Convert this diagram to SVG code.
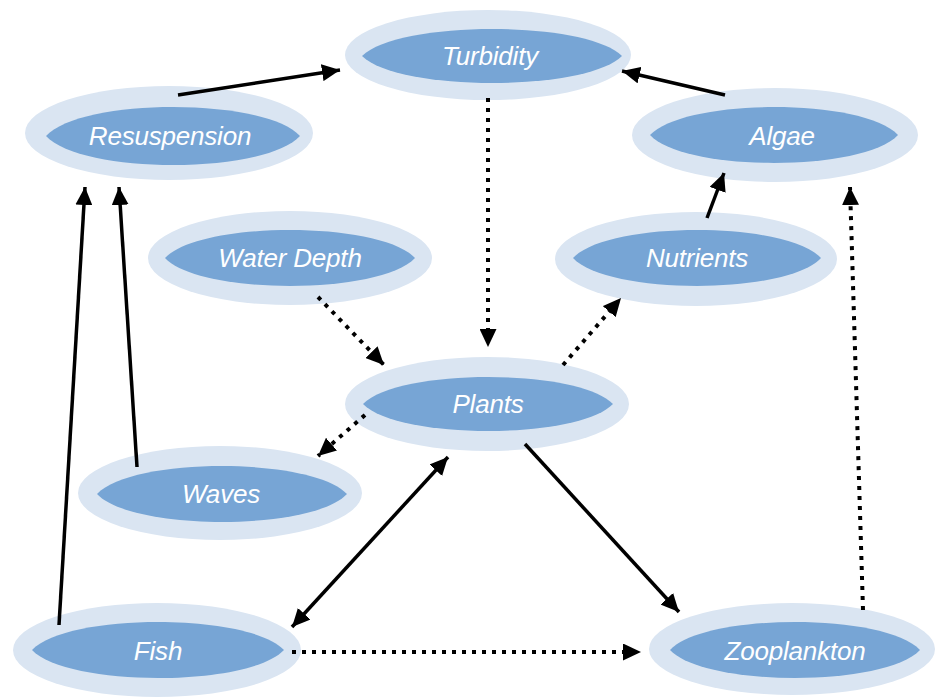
<svg xmlns="http://www.w3.org/2000/svg" width="944" height="700" viewBox="0 0 944 700">
<defs>
<style>
.outer{fill:#dae5f2}
.inner{fill:#77a5d5}
.lbl{font-family:"Liberation Sans",Arial,sans-serif;font-style:italic;font-size:26px;fill:#ffffff;text-anchor:middle;letter-spacing:-0.2px}
.solid{stroke:#000;stroke-width:3.5;fill:none}
.dot{stroke:#000;stroke-width:4;fill:none;stroke-dasharray:4 6}
</style>
<marker id="ah" markerUnits="userSpaceOnUse" markerWidth="19" markerHeight="17" refX="18" refY="8.5" orient="auto-start-reverse">
<path d="M0,0 L18,8.5 L0,17 z" fill="#000"/>
</marker>
</defs>
<rect width="944" height="700" fill="#ffffff"/>

<g id="turbidity">
<ellipse class="outer" cx="488" cy="55" rx="143" ry="45"/>
<path class="inner" d="M362,56 C398.4,20 585.6,20 622,56 C585.6,92 398.4,92 362,56Z"/>
<text class="lbl" x="490" y="65">Turbidity</text>
</g>
<g id="resuspension">
<ellipse class="outer" cx="169" cy="133" rx="144" ry="47"/>
<path class="inner" d="M46,136 C81.6,97.3 264.4,97.3 300,136 C264.4,174.7 81.6,174.7 46,136Z"/>
<text class="lbl" x="170" y="145">Resuspension</text>
</g>
<g id="algae">
<ellipse class="outer" cx="775" cy="135" rx="143" ry="47"/>
<path class="inner" d="M650,135 C684.7,97.7 863.3,97.7 898,135 C863.3,172.3 684.7,172.3 650,135Z"/>
<text class="lbl" x="782" y="145">Algae</text>
</g>
<g id="waterdepth">
<ellipse class="outer" cx="290" cy="258" rx="142" ry="47"/>
<path class="inner" d="M165,258 C200,220.7 380,220.7 415,258 C380,295.3 200,295.3 165,258Z"/>
<text class="lbl" x="290" y="267">Water Depth</text>
</g>
<g id="nutrients">
<ellipse class="outer" cx="696" cy="259" rx="141" ry="47"/>
<path class="inner" d="M573,258 C607.7,220.7 786.3,220.7 821,258 C786.3,295.3 607.7,295.3 573,258Z"/>
<text class="lbl" x="697" y="267">Nutrients</text>
</g>
<g id="plants">
<ellipse class="outer" cx="487" cy="404" rx="142" ry="47"/>
<path class="inner" d="M363,404 C398,368 578,368 613,404 C578,440 398,440 363,404Z"/>
<text class="lbl" x="488" y="413">Plants</text>
</g>
<g id="waves">
<ellipse class="outer" cx="220" cy="493" rx="142" ry="47"/>
<path class="inner" d="M97,494 C132,456.7 312,456.7 347,494 C312,531.3 132,531.3 97,494Z"/>
<text class="lbl" x="221" y="503">Waves</text>
</g>
<g id="fish">
<ellipse class="outer" cx="157" cy="650" rx="144" ry="47"/>
<path class="inner" d="M32,650 C67.3,612.7 248.7,612.7 284,650 C248.7,687.3 67.3,687.3 32,650Z"/>
<text class="lbl" x="158" y="660">Fish</text>
</g>
<g id="zooplankton">
<ellipse class="outer" cx="792" cy="649" rx="143" ry="46"/>
<path class="inner" d="M670,650 C705,612.7 885,612.7 920,650 C885,687.3 705,687.3 670,650Z"/>
<text class="lbl" x="795" y="660">Zooplankton</text>
</g>

<g id="connectors">
<line class="solid" x1="178" y1="95" x2="340" y2="70" marker-end="url(#ah)"/>
<line class="solid" x1="725" y1="95" x2="622" y2="71" marker-end="url(#ah)"/>
<line class="dot" x1="488" y1="98" x2="488" y2="347" marker-end="url(#ah)"/>
<line class="solid" x1="707" y1="218" x2="724" y2="173" marker-end="url(#ah)"/>
<line class="dot" x1="318" y1="297" x2="384" y2="365" marker-end="url(#ah)"/>
<line class="dot" x1="563" y1="365" x2="621" y2="298" marker-end="url(#ah)"/>
<line class="dot" x1="365" y1="415" x2="318" y2="456" marker-end="url(#ah)"/>
<line class="solid" x1="292" y1="627" x2="448" y2="457" marker-start="url(#ah)" marker-end="url(#ah)"/>
<line class="solid" x1="525" y1="444" x2="679" y2="612" marker-end="url(#ah)"/>
<line class="dot" x1="292" y1="652" x2="641" y2="652" marker-end="url(#ah)"/>
<line class="dot" x1="863" y1="610" x2="850" y2="187" marker-end="url(#ah)"/>
<line class="solid" x1="59" y1="625" x2="85" y2="187" marker-end="url(#ah)"/>
<line class="solid" x1="137" y1="467" x2="119" y2="187" marker-end="url(#ah)"/>
</g>
</svg>
